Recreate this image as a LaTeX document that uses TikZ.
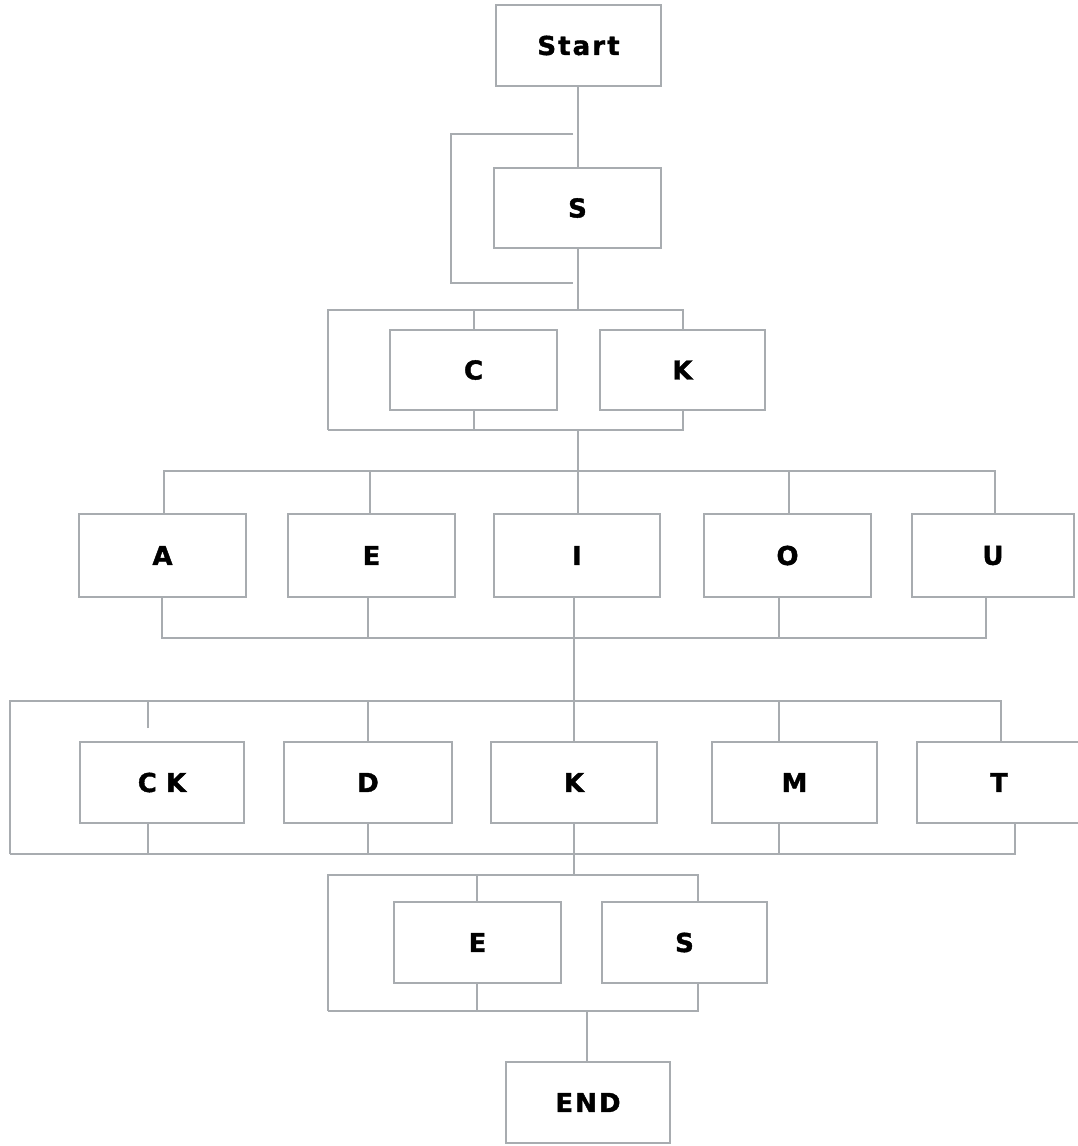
\documentclass[tikz,border=0pt]{standalone}
\usepackage{fontspec}
\newfontfamily\boxfont[LetterSpace=8,BoldFeatures={FakeBold=1.5}]{DejaVu Sans}
\definecolor{lineg}{RGB}{168,172,176}
\begin{document}
\begin{tikzpicture}[x=1pt,y=-1pt,
  box/.style={draw=lineg,line width=1.5pt,fill=white,inner sep=0pt,
    minimum height=81pt,font=\boxfont\bfseries\fontsize{26}{30}\selectfont,text=black},
  conn/.style={draw=lineg,line width=1.5pt}]
\useasboundingbox (0,0) rectangle (1077,1146);
\fill[white] (0,0) rectangle (1077,1146);
% nodes
\node[box,minimum width=165pt] (start) at (578.5,45.5) {Start};
\node[box,minimum width=167pt,minimum height=80pt] (s1) at (577.5,208) {S};
\node[box,minimum width=167pt,minimum height=80pt] (c) at (473.5,370) {C};
\node[box,minimum width=165pt,minimum height=80pt] (k1) at (682.5,370) {K};
\node[box,minimum width=167pt,minimum height=83pt] (a) at (162.5,555.5) {A};
\node[box,minimum width=167pt,minimum height=83pt] (e1) at (371.5,555.5) {E};
\node[box,minimum width=166pt,minimum height=83pt] (i) at (577,555.5) {I};
\node[box,minimum width=167pt,minimum height=83pt] (o) at (787.5,555.5) {O};
\node[box,minimum width=162pt,minimum height=83pt] (u) at (993,555.5) {U};
\node[box,minimum width=164pt] (ck) at (162,782.5) {C\kern-2pt\ K};
\node[box,minimum width=168pt] (d) at (368,782.5) {D};
\node[box,minimum width=166pt] (k2) at (574,782.5) {K};
\node[box,minimum width=165pt] (m) at (794.5,782.5) {M};
\node[box,minimum width=164pt] (t) at (999,782.5) {T};
\node[box,minimum width=167pt] (e2) at (477.5,942.5) {E};
\node[box,minimum width=165pt] (s2) at (684.5,942.5) {S};
\node[box,minimum width=164pt] (end) at (588,1102.5) {END};
% coordinates
\coordinate (l1a) at (573,134);
\coordinate (l1b) at (451,134);
\coordinate (l1c) at (451,283);
\coordinate (l1d) at (573,283);
\coordinate (j2t) at (578,310);
\coordinate (j2b) at (578,430);
\coordinate (j3t) at (578,471);
\coordinate (j3b) at (574,638);
\coordinate (j4t) at (574,701);
\coordinate (j4b) at (574,854);
\coordinate (j5t) at (574,875);
\coordinate (j5b) at (587,1011);
\coordinate (cks) at (148,728);
% level 0-1
\draw[conn] (start.south -| j2t) -- (s1.north -| j2t);
\draw[conn] (l1a) -- (l1b) -- (l1c) -- (l1d);
% level 2
\draw[conn] (s1.south -| j2t) -- (j2t);
\draw[conn] (328,430) -- (328,310) -| (k1.north -| 683,0);
\draw[conn] (c.north -| 474,0) -- (474,310);
\draw[conn] (c.south -| 474,0) -- (474,430);
\draw[conn] (k1.south -| 683,0) |- (328,430);
\draw[conn] (j2b) -- (j3t);
% level 3
\draw[conn] ([xshift=1.5pt]a.north) |- (j3t) -| ([xshift=2pt]u.north);
\draw[conn] ([xshift=-1.5pt]e1.north) -- ([xshift=-1.5pt]e1.north |- j3t);
\draw[conn] (j3t) -- ([xshift=1pt]i.north);
\draw[conn] ([xshift=1.5pt]o.north) -- ([xshift=1.5pt]o.north |- j3t);
\draw[conn] ([xshift=-0.5pt]a.south) |- (j3b) -| ([xshift=-7pt]u.south);
\draw[conn] ([xshift=-3.5pt]e1.south) -- ([xshift=-3.5pt]e1.south |- j3b);
\draw[conn] ([xshift=-3pt]i.south) -- (j3b);
\draw[conn] ([xshift=-8.5pt]o.south) -- ([xshift=-8.5pt]o.south |- j3b);
\draw[conn] (j3b) -- (j4t);
% level 4
\draw[conn] (10,854) -- (10,701) -| ([xshift=2pt]t.north);
\draw[conn] (cks) -- (cks |- j4t);
\draw[conn] (d.north) -- (d.north |- j4t);
\draw[conn] (j4t) -- (k2.north);
\draw[conn] ([xshift=-15.5pt]m.north) -- ([xshift=-15.5pt]m.north |- j4t);
\draw[conn] ([xshift=-14pt]ck.south) |- (10,854);
\draw[conn] ([xshift=-14pt]ck.south |- j4b) -| ([xshift=16pt]t.south);
\draw[conn] (d.south) -- (d.south |- j4b);
\draw[conn] (k2.south) -- (j4b);
\draw[conn] ([xshift=-15.5pt]m.south) -- ([xshift=-15.5pt]m.south |- j4b);
\draw[conn] (j4b) -- (j5t);
% level 5
\draw[conn] (328,1011) -- (328,875) -| ([xshift=13.5pt]s2.north);
\draw[conn] (e2.north -| 477,0) -- (477,875);
\draw[conn] (e2.south -| 477,0) -- (477,1011);
\draw[conn] ([xshift=13.5pt]s2.south) |- (328,1011);
\draw[conn] (j5b) -- (end.north -| j5b);
\end{tikzpicture}
\end{document}
